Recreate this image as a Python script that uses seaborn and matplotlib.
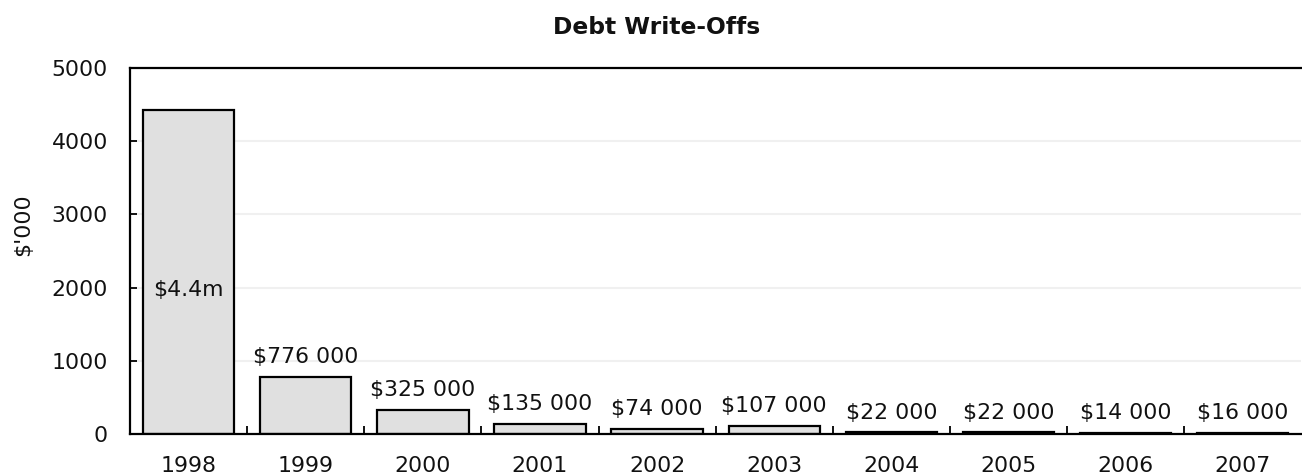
import matplotlib
matplotlib.use("Agg")
import matplotlib.pyplot as plt
import seaborn as sns
import pandas as pd
from matplotlib.ticker import FixedLocator

years = ["1998", "1999", "2000", "2001", "2002", "2003", "2004", "2005", "2006", "2007"]
values = [4430, 776, 325, 135, 74, 107, 22, 22, 14, 16]
labels = ["$4.4m", "$776 000", "$325 000", "$135 000", "$74 000", "$107 000",
          "$22 000", "$22 000", "$14 000", "$16 000"]
title = "Debt Write-Offs"
ylabel = "$'000"
yticks = [0, 1000, 2000, 3000, 4000, 5000]

sns.set_theme(style="white")
plt.rcParams['font.family'] = ['DejaVu Sans']

df = pd.DataFrame({"year": years, "value": values})

FS = 15.8
fig = plt.figure(figsize=(13.02, 4.75), dpi=100)
ax = fig.add_axes([130/1302, 1-434/475, 1-130/1302 - 0.0005, (434-68)/475])

for y in yticks[1:-1]:
    ax.axhline(y, color="#f0f0f0", lw=1.5, zorder=0)

sns.barplot(data=df, x="year", y="value", color="#e0e0e0", edgecolor="black",
            linewidth=1.6, width=0.78, saturation=1, ax=ax, zorder=2)

ax.set_xlim(-0.5, 9.5)
ax.set_ylim(0, 5000)
ax.set_yticks(yticks)
ax.set_xlabel("")
ax.set_ylabel("")
fig.text(23/1302, 1-225/475, ylabel, rotation=90, ha="center", va="center",
         fontsize=FS, color="#111111")
fig.text(657/1302, 1-28/475, title, ha="center", va="center", fontsize=16.8,
         fontweight="bold", color="#111111")

for i, (v, lab) in enumerate(zip(values, labels)):
    if i == 0:
        ax.text(i, 1970, lab, ha="center", va="center", fontsize=FS, color="#111111", zorder=3)
    else:
        ax.annotate(lab, (i, v), xytext=(0, 7), textcoords="offset points",
                    ha="center", va="bottom", fontsize=FS, color="#111111", zorder=3)

for s in ["left", "top", "bottom"]:
    ax.spines[s].set_visible(True)
    ax.spines[s].set_color("black")
    ax.spines[s].set_linewidth(1.6)
ax.spines["right"].set_visible(False)

ax.xaxis.set_minor_locator(FixedLocator([i + 0.5 for i in range(9)]))
ax.tick_params(axis="x", which="major", length=0, pad=16, labelsize=FS, labelcolor="#111111")
ax.tick_params(axis="x", which="minor", direction="in", length=6, width=1.3, color="black", bottom=True)
ax.tick_params(axis="y", which="major", direction="in", length=5, width=1.3, color="black",
               left=True, pad=16, labelsize=FS, labelcolor="#111111")

fig.savefig("out.png", dpi=100)
